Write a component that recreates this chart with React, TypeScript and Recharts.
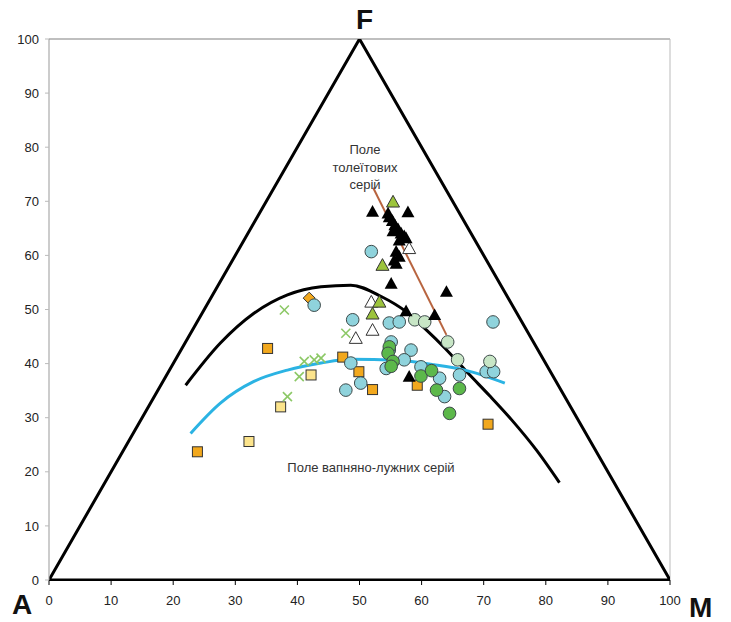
import { ComposedChart, Scatter, Line, XAxis, YAxis, ReferenceLine } from 'recharts';

// axis ticks (same for both axes)
const axisTicks = [0, 10, 20, 30, 40, 50, 60, 70, 80, 90, 100];

// AFM triangle frame
const frameA = [0, 0];
const frameF = [50, 100];
const frameM = [100, 0];

// dividing curve (tholeiitic / calc-alkaline)
const blackCurve = [
  [22, 36], [27.6, 43.8], [33, 49.3], [38.4, 52.7], [43.8, 54.2], [48.6, 54.5],
  [53.5, 52.4], [57.5, 49.6], [60.5, 46.5], [63.8, 42.8], [67.5, 38.2], [71, 34],
  [74.5, 29.6], [78.5, 24], [82.2, 18],
];
// trend curve
const blueCurve = [
  [22.8, 27.1], [27.6, 32.7], [33, 36.7], [38.4, 38.8], [43.8, 40.1], [48.6, 40.8],
  [56, 40.6], [62, 39.8], [67, 38.8], [73.4, 36.4],
];
// tholeiitic trend
const brownLine = [[52.2, 72.5], [64, 45.3]];

// samples
const blackTriangles = [
  [52.1, 68.1], [54.6, 67.8], [57.8, 68.0], [54.8, 67.1], [55.3, 66.4], [55.7, 65.6],
  [56.2, 64.9], [56.7, 64.1], [57.2, 63.6], [55.4, 64.5], [56.4, 62.8], [57.5, 63.2],
  [55.9, 60.7], [56.4, 59.8], [55.6, 59.1], [55.9, 58.5], [55.1, 54.8], [64.0, 53.3],
  [57.5, 49.7], [62.1, 49.0], [58.0, 37.6],
];
const hollowTriangles = [[58.0, 61.3], [51.9, 51.4], [52.1, 46.2], [49.4, 44.7]];
const greenTriangles = [[55.4, 69.9], [53.7, 58.2], [53.2, 51.4], [52.1, 49.2]];
const cyanCircles = [
  [51.9, 60.7], [42.7, 50.8], [48.9, 48.1], [54.8, 47.5], [56.4, 47.7], [55.1, 44.0],
  [58.3, 42.5], [54.8, 42.5], [48.6, 40.1], [54.3, 39.1], [57.2, 40.7], [50.2, 36.4],
  [47.8, 35.1], [59.9, 39.4], [62.9, 37.3], [63.7, 33.9], [66.1, 37.9], [70.4, 38.5],
  [71.6, 38.5], [71.5, 47.7],
];
const paleCircles = [[58.9, 48.1], [60.5, 47.7], [64.2, 44.0], [65.8, 40.7], [71.0, 40.4]];
const greenCircles = [
  [54.8, 43.1], [54.6, 41.9], [55.4, 40.4], [55.1, 39.5], [59.9, 37.7], [61.6, 38.7],
  [62.4, 35.1], [66.1, 35.4], [64.5, 30.8],
];
const orangeSquares = [
  [35.2, 42.8], [47.3, 41.2], [23.9, 23.7], [59.3, 36.0], [52.1, 35.2], [70.7, 28.8],
  [49.9, 38.5],
];
const yellowSquares = [[42.2, 37.9], [37.3, 32.0], [32.2, 25.6]];
const orangeDiamonds = [[41.9, 52.1]];
const greenCrosses = [
  [37.9, 49.9], [41.1, 40.4], [42.7, 40.7], [43.8, 41.0], [40.3, 37.6], [38.4, 33.9],
  [47.8, 45.6],
];

const toPts = (arr: number[][]) => arr.map(([x, y]) => ({ x, y }));
const font = '"Liberation Sans", Arial, sans-serif';

const triShape = (fill: string) => (props: any) => {
  const { cx, cy } = props;
  const s = 6.5;
  return (
    <polygon
      points={`${cx},${cy - s} ${cx - s},${cy + s * 0.8} ${cx + s},${cy + s * 0.8}`}
      fill={fill}
      stroke="#333"
      strokeWidth={1}
    />
  );
};
const blackTri = (props: any) => {
  const { cx, cy } = props;
  const s = 6.5;
  return <polygon points={`${cx},${cy - s} ${cx - s},${cy + s * 0.8} ${cx + s},${cy + s * 0.8}`} fill="#000" />;
};
const circleShape = (fill: string) => (props: any) => (
  <circle cx={props.cx} cy={props.cy} r={6.3} fill={fill} stroke="#3d4a4a" strokeWidth={1} />
);
const squareShape = (fill: string) => (props: any) => (
  <rect x={props.cx - 5} y={props.cy - 5} width={10} height={10} fill={fill} stroke="#333" strokeWidth={1} />
);
const diamondShape = (props: any) => {
  const { cx, cy } = props;
  const s = 6;
  return (
    <polygon points={`${cx},${cy - s} ${cx + s},${cy} ${cx},${cy + s} ${cx - s},${cy}`} fill="#f2a81d" stroke="#333" strokeWidth={1} />
  );
};
const crossShape = (props: any) => {
  const { cx, cy } = props;
  const s = 4.5;
  return (
    <g stroke="#8cc866" strokeWidth={1.6}>
      <line x1={cx - s} y1={cy - s} x2={cx + s} y2={cy + s} />
      <line x1={cx - s} y1={cy + s} x2={cx + s} y2={cy - s} />
    </g>
  );
};

const bigLetter = { position: 'absolute' as const, fontSize: 28, lineHeight: '28px', fontWeight: 700, color: '#111' };

export default function App() {
  const frame = toPts([frameA, frameF, frameM, frameA]);
  return (
    <div style={{ position: 'absolute', left: 0, top: 0, width: 731, height: 622, background: '#fff', fontFamily: font, overflow: 'hidden' }}>
      <ComposedChart width={731} height={622} margin={{ top: 39, right: 61, bottom: 12, left: 9 }}>
        <XAxis
          type="number"
          dataKey="x"
          domain={[0, 100]}
          ticks={axisTicks}
          interval={0}
          allowDataOverflow
          height={30}
          tickSize={5}
          tickMargin={11}
          axisLine={{ stroke: '#000', strokeWidth: 2 }}
          tickLine={{ stroke: '#000' }}
          tick={{ fill: '#222', fontSize: 13, fontFamily: font }}
        />
        <YAxis
          type="number"
          dataKey="y"
          domain={[0, 100]}
          ticks={axisTicks}
          interval={0}
          allowDataOverflow
          width={40}
          tickSize={4}
          tickMargin={6}
          axisLine={{ stroke: '#999' }}
          tickLine={{ stroke: '#bbb' }}
          tick={{ fill: '#222', fontSize: 13, fontFamily: font }}
        />
        <ReferenceLine y={100} stroke="#aaa" strokeWidth={1.5} />
        <ReferenceLine x={100} stroke="#bbb" strokeWidth={1} />

        <Scatter data={toPts(orangeSquares)} shape={squareShape('#f2a81d')} isAnimationActive={false} />
        <Scatter data={toPts(yellowSquares)} shape={squareShape('#fce48c')} isAnimationActive={false} />
        <Scatter data={toPts(orangeDiamonds)} shape={diamondShape} isAnimationActive={false} />
        <Scatter data={toPts(greenCrosses)} shape={crossShape} isAnimationActive={false} />
        <Scatter data={toPts(cyanCircles)} shape={circleShape('#8fd3dc')} isAnimationActive={false} />
        <Scatter data={toPts(paleCircles)} shape={circleShape('#c8e6c6')} isAnimationActive={false} />
        <Scatter data={toPts(greenCircles)} shape={circleShape('#5cb84a')} isAnimationActive={false} />
        <Scatter data={toPts(hollowTriangles)} shape={triShape('#ffffff')} isAnimationActive={false} />
        <Scatter data={toPts(greenTriangles)} shape={triShape('#9cc43c')} isAnimationActive={false} />
        <Scatter data={toPts(blackTriangles)} shape={blackTri} isAnimationActive={false} />

        <Line data={toPts(blackCurve)} dataKey="y" type="monotone" stroke="#000" strokeWidth={3} dot={false} isAnimationActive={false} />
        <Line data={toPts(blueCurve)} dataKey="y" type="monotone" stroke="#2bb3e3" strokeWidth={3} dot={false} isAnimationActive={false} />
        <Line data={toPts(brownLine)} dataKey="y" type="linear" stroke="#b8643f" strokeWidth={2} dot={false} isAnimationActive={false} />
        <Line data={frame} dataKey="y" type="linear" stroke="#000" strokeWidth={3} dot={false} isAnimationActive={false} />
      </ComposedChart>

      <div style={{ ...bigLetter, left: 12, top: 591 }}>A</div>
      <div style={{ ...bigLetter, left: 689, top: 594 }}>M</div>
      <div style={{ ...bigLetter, left: 356, top: 6 }}>F</div>

      <div style={{ position: 'absolute', left: 305, top: 141, width: 120, textAlign: 'center', fontSize: 13, lineHeight: '17.5px', color: '#333' }}>
        Поле<br />толеїтових<br />серій
      </div>
      <div style={{ position: 'absolute', left: 251, top: 460, width: 240, textAlign: 'center', fontSize: 13, color: '#333' }}>
        Поле вапняно-лужних серій
      </div>
    </div>
  );
}
